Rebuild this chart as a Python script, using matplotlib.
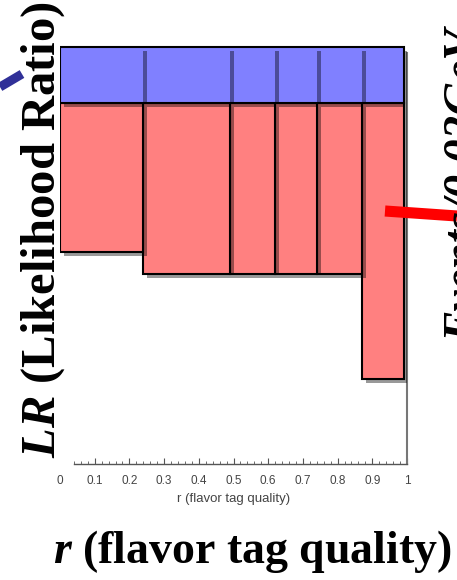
import matplotlib
matplotlib.use("Agg")
import matplotlib.pyplot as plt
import matplotlib.patheffects as pe
from matplotlib.patches import Rectangle
from matplotlib.lines import Line2D

# bins in r (flavor tag quality) and the depth each LR bar reaches
r_edges = [0.0, 0.24, 0.49, 0.62, 0.74, 0.87, 0.99]
lr_bottom = [0.50, 0.448, 0.448, 0.448, 0.448, 0.20]
band_top = 0.983
band_bottom = 0.851

tick_pos = [0.0, 0.1, 0.2, 0.3, 0.4, 0.5, 0.6, 0.7, 0.8, 0.9, 1.0]
tick_labels = ["0", "0.1", "0.2", "0.3", "0.4", "0.5", "0.6", "0.7", "0.8", "0.9", "1"]

plt.rcParams["mathtext.fontset"] = "custom"
plt.rcParams["mathtext.rm"] = "Liberation Serif"
plt.rcParams["mathtext.bfit"] = "Liberation Serif:italic:bold"

fig = plt.figure(figsize=(4.57, 5.80), dpi=100)
ax = fig.add_axes([60 / 457, 116 / 580, 347 / 457, 424 / 580])
ax.set_xlim(0, 1)
ax.set_ylim(0, 1)
ax.set_yticks([])

for side in ("left", "top"):
    ax.spines[side].set_visible(False)
ax.spines["right"].set_color("#777777")
ax.spines["right"].set_linewidth(1.5)
ax.spines["right"].set_bounds(0, 0.97)
ax.spines["bottom"].set_color("#555555")
ax.spines["bottom"].set_linewidth(1.0)
ax.spines["bottom"].set_bounds(0.04, 1.0)

ax.set_xticks(tick_pos)
ax.set_xticklabels(tick_labels, family="Liberation Sans", fontsize=8.5, color="#444444")
ax.set_xticks([0.04 + 0.02 * i for i in range(49)], minor=True)
ax.tick_params(axis="x", which="major", direction="in", length=4, width=0.8, color="#555555", pad=8)
ax.tick_params(axis="x", which="minor", direction="in", length=2, width=0.6, color="#555555")
ax.xaxis.get_major_ticks()[0].tick1line.set_visible(False)
ax.set_xlabel("r (flavor tag quality)", family="Liberation Sans", fontsize=9.5,
              color="#444444", labelpad=4)

shadow = [pe.SimplePatchShadow(offset=(3, -3), shadow_rgbFace="black", alpha=0.4), pe.Normal()]

# red LR bars, right to left so each shadow lands on its neighbour
for i in reversed(range(len(lr_bottom))):
    ax.add_patch(Rectangle((r_edges[i], lr_bottom[i]), r_edges[i + 1] - r_edges[i],
                           band_bottom - lr_bottom[i], fc="#ff8080", ec="black",
                           lw=1.5, zorder=3, path_effects=shadow))

# blue band across the top
for i in reversed(range(len(lr_bottom))):
    ax.add_patch(Rectangle((r_edges[i], band_bottom), r_edges[i + 1] - r_edges[i],
                           band_top - band_bottom, fc="#8080ff", ec="none",
                           zorder=4, path_effects=shadow))
ax.add_patch(Rectangle((r_edges[0], band_bottom), r_edges[-1] - r_edges[0],
                       band_top - band_bottom, fill=False, ec="black", lw=1.5, zorder=5))

# pointer strokes
fig.add_artist(Line2D([0, 22 / 457], [1 - 87 / 580, 1 - 74 / 580], transform=fig.transFigure,
                      color="#303098", lw=6.5, solid_capstyle="butt", zorder=1))
fig.add_artist(Line2D([385 / 457, 1.0], [1 - 211 / 580, 1 - 216 / 580], transform=fig.transFigure,
                      color="#ff0000", lw=8, solid_capstyle="butt", zorder=6))

fig.text(55 / 457, 1 - 230 / 580, r"$\mathbfit{LR}$ (Likelihood Ratio)", rotation=90,
         rotation_mode="anchor", ha="center", va="baseline", fontsize=35,
         family="Liberation Serif", fontweight="bold", zorder=7)
fig.text(252 / 457, 1 - 563 / 580, r"$\mathbfit{r}$ (flavor tag quality)", ha="center",
         va="baseline", fontsize=33, family="Liberation Serif", fontweight="bold", zorder=7)
fig.text(476 / 457, 1 - 342 / 580, "Events/0.02GeV", rotation=90, rotation_mode="anchor",
         ha="left", va="baseline", fontsize=34, family="Liberation Serif",
         fontweight="bold", fontstyle="italic", zorder=7)

fig.savefig("out.png", dpi=100)
